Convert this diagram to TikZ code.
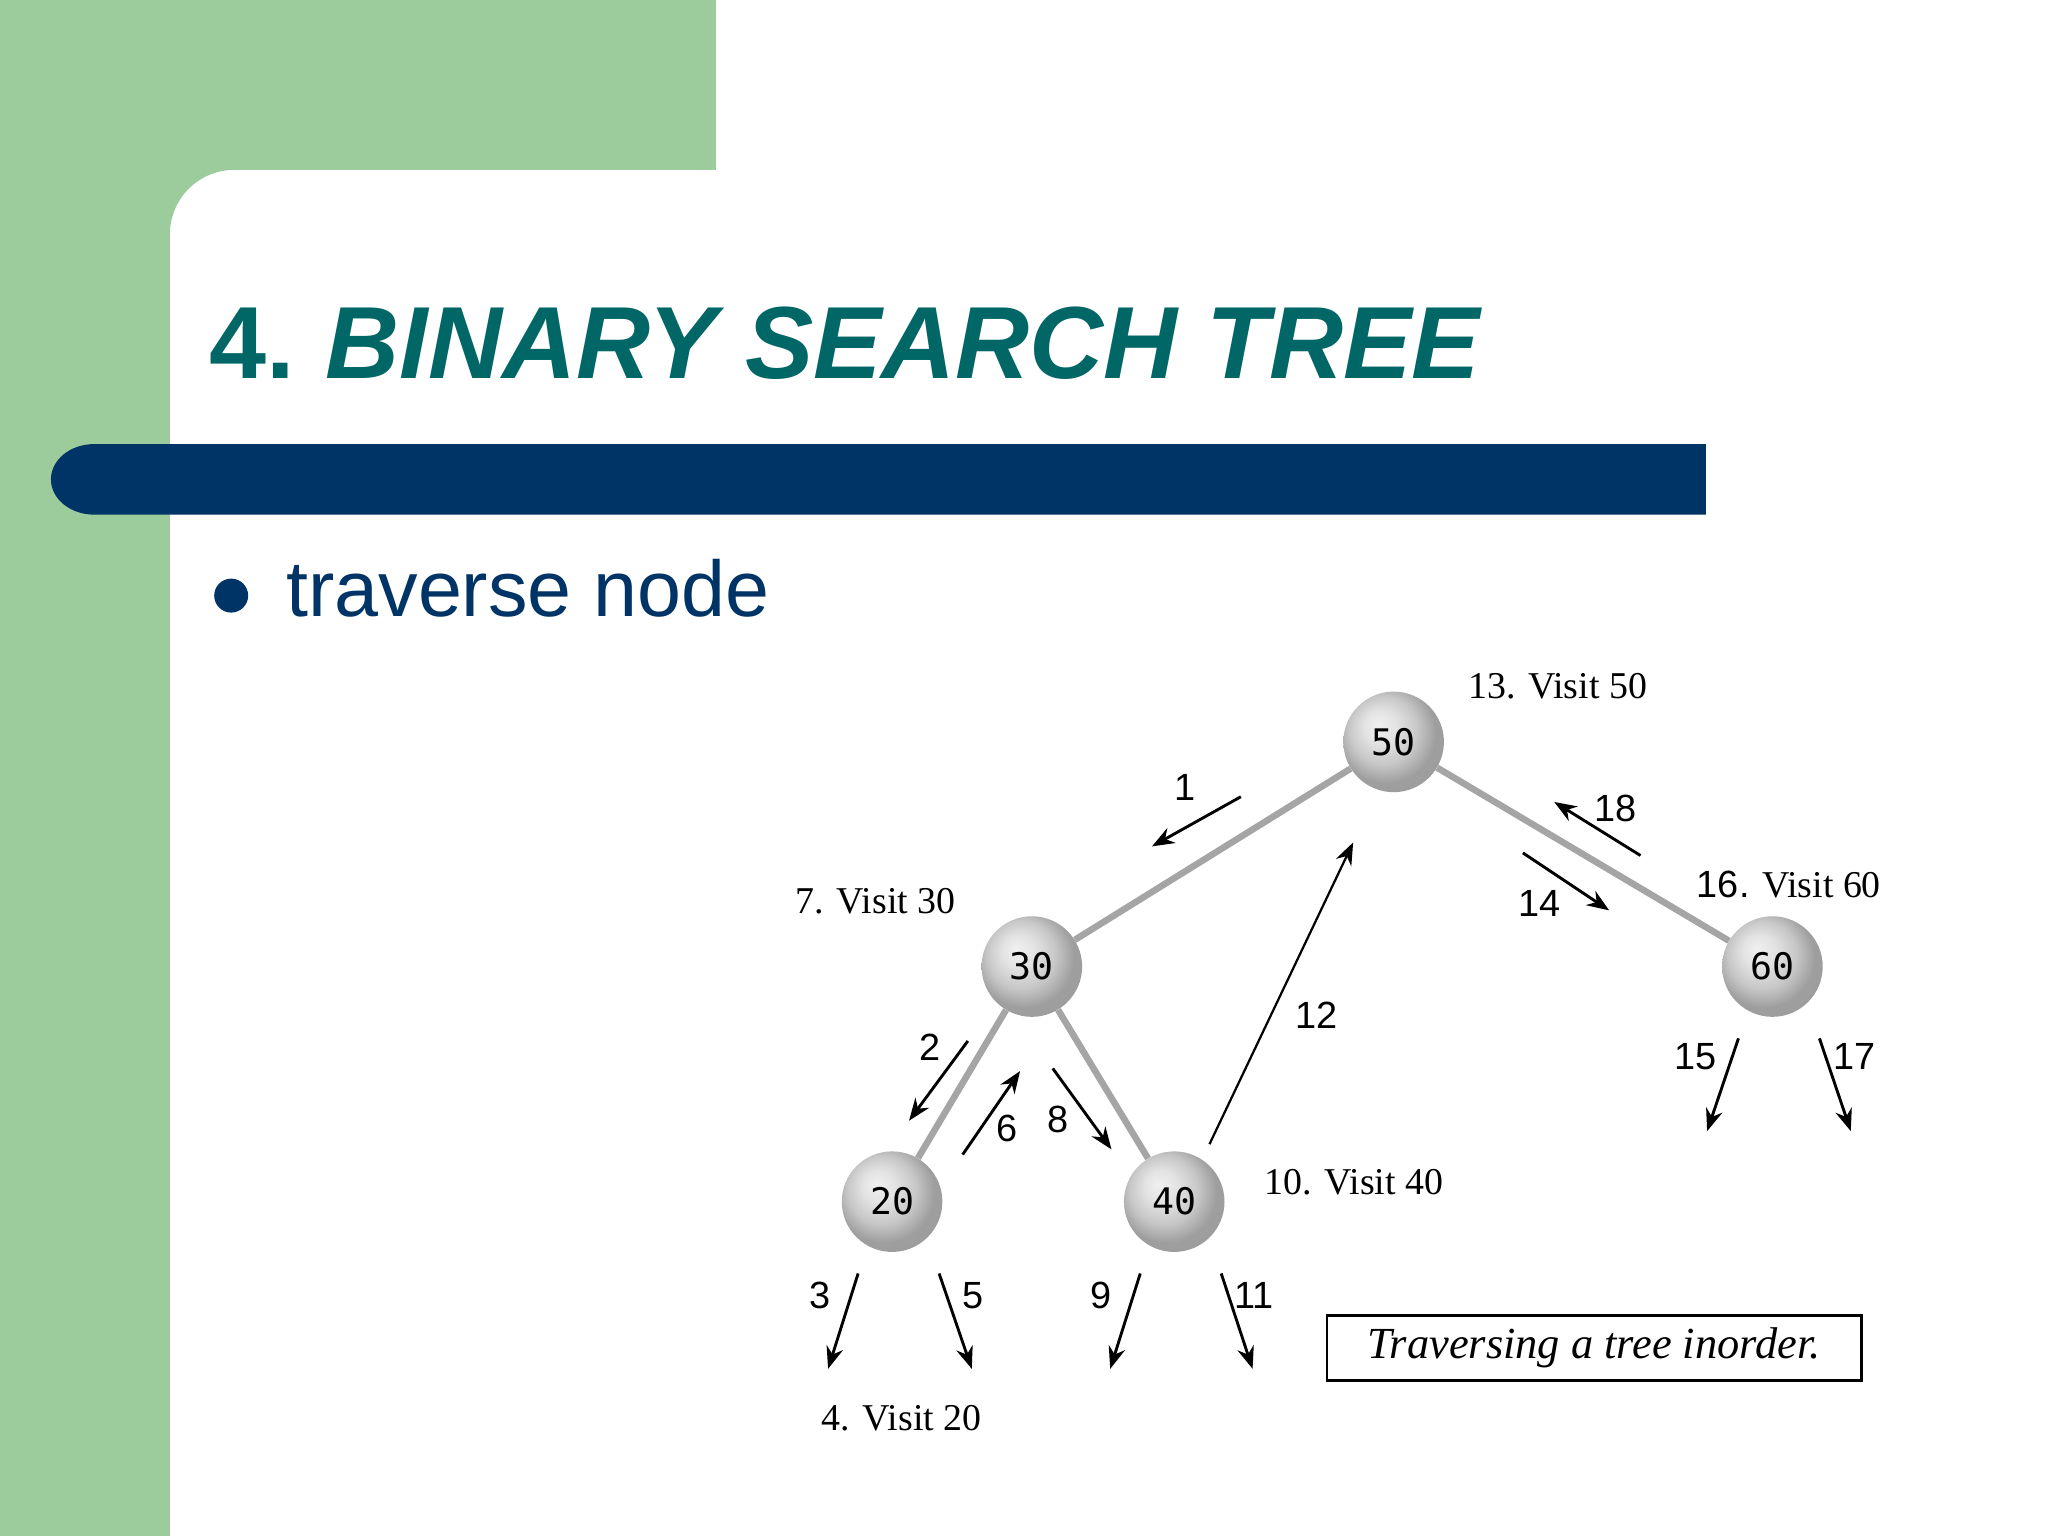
\documentclass[tikz,border=0pt]{standalone}
\usepackage{fontspec}
\setmainfont{Liberation Serif}
\newfontfamily\arialf{Liberation Sans}
\newfontfamily\monof{DejaVu Sans Mono}
\usetikzlibrary{arrows.meta}
\definecolor{slidegreen}{RGB}{156,204,156}
\definecolor{navy}{RGB}{0,51,102}
\definecolor{teal}{RGB}{0,102,102}
\definecolor{edgegray}{RGB}{165,165,165}
\pgfdeclareradialshading{graysphere}{\pgfpoint{-8bp}{9bp}}{%
  color(0bp)=(black!6); color(8bp)=(black!11); color(17bp)=(black!22);
  color(25bp)=(black!38); color(50bp)=(black!40)}
\tikzset{
  ballnode/.style={circle, minimum size=77pt, inner sep=0pt, shading=graysphere,
    font=\monof\fontsize{28}{30}\selectfont},
  treeedge/.style={draw=edgegray, line width=5pt},
  trav/.style={draw=black, line width=2.2pt, -{Stealth[length=17pt,width=13pt]}},
  travthin/.style={draw=black, line width=1.7pt, -{Stealth[length=17pt,width=13pt]}},
  steplabel/.style={font=\arialf\fontsize{29}{31}\selectfont, inner sep=0pt},
  visitlabel/.style={font=\fontsize{29}{31}\selectfont, inner sep=0pt, anchor=west},
}
\begin{document}
\begin{tikzpicture}[x=1pt,y=-1pt]
\useasboundingbox (0,0) rectangle (1568,1176);
% background
\fill[white] (0,0) rectangle (1568,1176);
\fill[slidegreen] (0,0) rectangle (548,130);
\fill[slidegreen] (0,0) rectangle (130,1176);
\fill[slidegreen] (130,180) -- (130,130) -- (180,130) .. controls (152,130) and (130,152) .. (130,180) -- cycle;
% navy bar
\fill[navy] (72,340) -- (1306,340) -- (1306,394) -- (72,394) arc[start angle=90, end angle=270, x radius=33, y radius=27] -- cycle;
% title
\node[anchor=base west, inner sep=0pt, text=teal, font=\arialf\bfseries\fontsize{78.5}{84}\selectfont] (title) at (160,290) {4.\kern0.3em\itshape BINARY SEARCH TREE};
% bullet
\node[circle, fill=navy, minimum size=26pt, inner sep=0pt] (bullet) at (177,456) {};
\node[anchor=base west, inner sep=0pt, text=navy, font=\arialf\fontsize{60.5}{64}\selectfont] (bullettext) at (219,472) {traverse node};
% tree nodes
\node[ballnode] (n50) at (1067,568) {50};
\node[ballnode] (n30) at (790,740) {30};
\node[ballnode] (n60) at (1357,740) {60};
\node[ballnode] (n20) at (683,920) {20};
\node[ballnode] (n40) at (899,920) {40};
\draw[treeedge] (n50) -- (n30);
\draw[treeedge] (n50) -- (n60);
\draw[treeedge] (n30) -- (n20);
\draw[treeedge] (n30) -- (n40);
% visit labels
\node[visitlabel] (v50) at (1124,525) {13. Visit 50};
\node[visitlabel] (v30) at (609,690) {7. Visit 30};
\node[visitlabel] (v60) at (1299,677) {{\arialf 16.} Visit 60};
\node[visitlabel] (v40) at (968,905) {10. Visit 40};
\node[visitlabel] (v20) at (629,1086) {4. Visit 20};
% traversal arrow end points
\coordinate (a1s) at (950,610);  \coordinate (a1e) at (882,648);
\coordinate (a2s) at (741,797);  \coordinate (a2e) at (696,858);
\coordinate (a6s) at (737,884);  \coordinate (a6e) at (781,820);
\coordinate (a8s) at (806,818);  \coordinate (a8e) at (851,880);
\coordinate (a12s) at (926,876); \coordinate (a12e) at (1036,645);
\coordinate (a14s) at (1166,653); \coordinate (a14e) at (1232,697);
\coordinate (a18s) at (1256,655); \coordinate (a18e) at (1190,614);
\coordinate (a15s) at (1331,795); \coordinate (a15e) at (1307,866);
\coordinate (a17s) at (1393,795); \coordinate (a17e) at (1417,866);
\coordinate (a3s) at (657,975);  \coordinate (a3e) at (634,1048);
\coordinate (a5s) at (719,975);  \coordinate (a5e) at (744,1048);
\coordinate (a9s) at (873,975);  \coordinate (a9e) at (850,1048);
\coordinate (a11s) at (935,975); \coordinate (a11e) at (959,1048);
\draw[trav] (a1s) -- (a1e);
\draw[trav] (a2s) -- (a2e);
\draw[trav] (a6s) -- (a6e);
\draw[trav] (a8s) -- (a8e);
\draw[travthin] (a12s) -- (a12e);
\draw[trav] (a14s) -- (a14e);
\draw[trav] (a18s) -- (a18e);
\draw[trav] (a15s) -- (a15e);
\draw[trav] (a17s) -- (a17e);
\draw[trav] (a3s) -- (a3e);
\draw[trav] (a5s) -- (a5e);
\draw[trav] (a9s) -- (a9e);
\draw[trav] (a11s) -- (a11e);
% step labels
\node[steplabel] (l1) at (907,603) {1};
\node[steplabel] (l2) at (712,802) {2};
\node[steplabel] (l6) at (771,864) {6};
\node[steplabel] (l8) at (810,857) {8};
\node[steplabel] (l12) at (1008,777) {12};
\node[steplabel] (l14) at (1179,692) {14};
\node[steplabel] (l18) at (1237,619) {18};
\node[steplabel] (l15) at (1298,809) {15};
\node[steplabel] (l17) at (1420,809) {17};
\node[steplabel] (l3) at (628,992) {3};
\node[steplabel] (l5) at (745,992) {5};
\node[steplabel] (l9) at (843,992) {9};
\node[steplabel] (l11) at (960,992) {11};
% caption
\node[draw=black, line width=2pt, minimum width=409pt, minimum height=50pt, inner sep=0pt,
  font=\itshape\fontsize{34}{36}\selectfont] (caption) at (1220.5,1032) {Traversing a tree inorder.};
\end{tikzpicture}
\end{document}
